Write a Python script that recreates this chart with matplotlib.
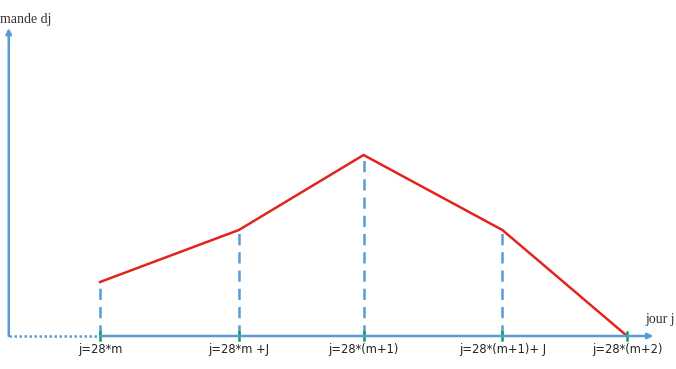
import numpy as np
import matplotlib.pyplot as plt

# day offsets from j=28*m, J ~ 14.75 days
J = 14.75
days = [0, J, 28, 28 + J, 56]
demand = [54, 106, 181, 106, 0]
tick_labels = ["j=28*m", "j=28*m +J", "j=28*(m+1)", "j=28*(m+1)+ J", "j=28*(m+2)"]

blue = '#5b9bd5'
red = '#e3241d'
green = '#00a651'

fig = plt.figure(figsize=(6.76, 3.69), dpi=100)
ax = fig.add_axes([0, 0, 1, 1])
ax.set_xlim(-10.63, 61.2)
ax.set_ylim(-33, 336)
ax.axis('off')

#axes: y axis and x axis with arrows
x_axis = -9.7
ax.annotate('', xy=(x_axis, 308), xytext=(x_axis, 0),
            arrowprops=dict(arrowstyle='-|>', color=blue, lw=1.8,
                            mutation_scale=8, shrinkA=0, shrinkB=0))
ax.plot([x_axis, 0], [0, 0], color=blue, lw=1.8, ls=(0, (1, 1)))
ax.annotate('', xy=(58.8, 0), xytext=(0, 0),
            arrowprops=dict(arrowstyle='-|>', color=blue, lw=1.8,
                            mutation_scale=8, shrinkA=0, shrinkB=0))

#dashed drop lines
for d, v in zip(days[:-1], demand[:-1]):
    ax.plot([d, d], [0, v], color=blue, lw=1.8, ls=(0, (4.5, 2.8)))

#demand curve
ax.plot(days, demand, color=red, lw=1.8, solid_joinstyle='miter')

#green ticks and labels
for d, lab in zip(days, tick_labels):
    ax.plot([d, d], [-4, 4], color=green, lw=1.8)
    ax.text(d, -14, lab, ha='center', va='center', fontsize=8.3,
            family='DejaVu Sans', color='#222222')

ax.text(-10.6, 316, 'mande dj', ha='left', va='center', fontsize=10,
        family='Liberation Serif', color='#333333')
ax.text(58.0, 16, 'jour j', ha='left', va='center', fontsize=10,
        family='Liberation Serif', color='#333333')

fig.savefig('out.png', dpi=100)
